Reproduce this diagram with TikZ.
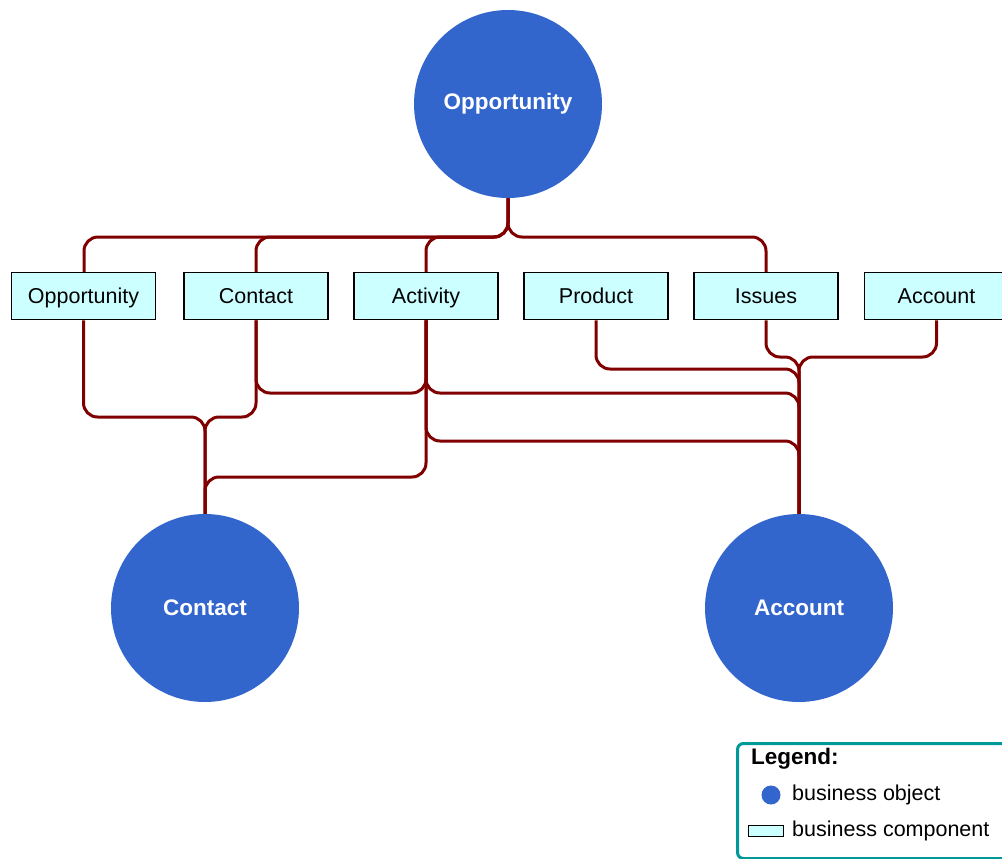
\documentclass[tikz,border=0pt]{standalone}
\usepackage{fontspec}
\setmainfont{Liberation Sans}
\definecolor{conn}{HTML}{800000}
\definecolor{objblue}{HTML}{3366CC}
\definecolor{compfill}{HTML}{CCFFFF}
\definecolor{legteal}{HTML}{009999}
\tikzset{
  bobj/.style={circle, fill=objblue, minimum size=188pt, inner sep=0pt, text=white,
    font=\fontsize{22.5}{26}\selectfont\bfseries},
  bcomp/.style={rectangle, draw=black, line width=1.5pt, fill=compfill,
    minimum width=144pt, minimum height=47pt, inner sep=0pt,
    text height=15.5pt, text depth=0pt,
    font=\fontsize{21.5}{25}\selectfont},
  link/.style={draw=conn, line width=3pt, rounded corners=14pt},
  legtext/.style={anchor=base west, inner sep=0pt, font=\fontsize{21.5}{25}\selectfont},
}
\begin{document}
\begin{tikzpicture}[x=1pt, y=-1pt]
\useasboundingbox (0,0) rectangle (1002,859);
\clip (0,0) rectangle (1002,859);
% level coordinates
\coordinate (Ltop) at (0,237);
\coordinate (L357) at (0,357);
\coordinate (L369) at (0,369);
\coordinate (L393) at (0,393);
\coordinate (L417) at (0,417);
\coordinate (L441) at (0,441);
\coordinate (L477) at (0,477);
% business objects
\node[bobj] (oppO) at (508,104) {Opportunity};
\node[bobj] (conO) at (205,608) {Contact};
\node[bobj] (accO) at (799,608) {Account};
% connectors from Opportunity object to components (drawn before boxes)
\foreach \b/\x in {oppB/84,conB/256,actB/426,issB/766}
  \coordinate (\b top) at (\x,272);
\foreach \b in {oppB,conB,actB,issB}
  \draw[link] (oppO.south) -- (oppO.south |- Ltop) -- (\b top |- Ltop) -- (\b top);
% business components
\node[bcomp] (oppB) at (83.5,296) {Opportunity};
\node[bcomp] (conB) at (256,296) {Contact};
\node[bcomp] (actB) at (426,296) {Activity};
\node[bcomp] (prodB) at (596,296) {Product};
\node[bcomp] (issB) at (766,296) {Issues};
\node[bcomp] (accB) at (936.5,296) {Account};
% lower connectors
\draw[link] (oppB.south) -- (oppB.south |- L417) -- (conO.north |- L417) -- (conO.north);
\draw[link] (conB.south) -- (conB.south |- L417) -- (conO.north |- L417) -- (conO.north);
\draw[link] (conB.south) -- (conB.south |- L393) -- (actB.south |- L393) -- (actB.south);
\draw[link] (actB.south) -- (actB.south |- L393) -- (accO.north |- L393) -- (accO.north);
\draw[link] (actB.south) -- (actB.south |- L441) -- (accO.north |- L441) -- (accO.north);
\draw[link] (actB.south) -- (actB.south |- L477) -- (conO.north |- L477) -- (conO.north);
\draw[link] (prodB.south) -- (prodB.south |- L369) -- (accO.north |- L369) -- (accO.north);
\draw[link] (issB.south) -- (issB.south |- L357) -- (accO.north |- L357) -- (accO.north);
\draw[link] (accB.south) -- (accB.south |- L357) -- (accO.north |- L357) -- (accO.north);
% legend
\node[draw=legteal, line width=3pt, rounded corners=6pt, minimum width=284pt,
      minimum height=115pt, anchor=north west, inner sep=0pt] (legend) at (736,742) {};
\node[legtext, font=\fontsize{22.5}{26}\selectfont\bfseries] (legT) at (751,764) {Legend:};
\node[circle, fill=objblue, minimum size=19pt, inner sep=0pt] (legC) at (771,795) {};
\node[legtext] (legCt) at (792,800) {business object};
\node[rectangle, draw=black, line width=1.5pt, fill=compfill, minimum width=35pt,
      minimum height=11pt, inner sep=0pt] (legR) at (766,831) {};
\node[legtext] (legRt) at (792,836) {business component};
\end{tikzpicture}
\end{document}
